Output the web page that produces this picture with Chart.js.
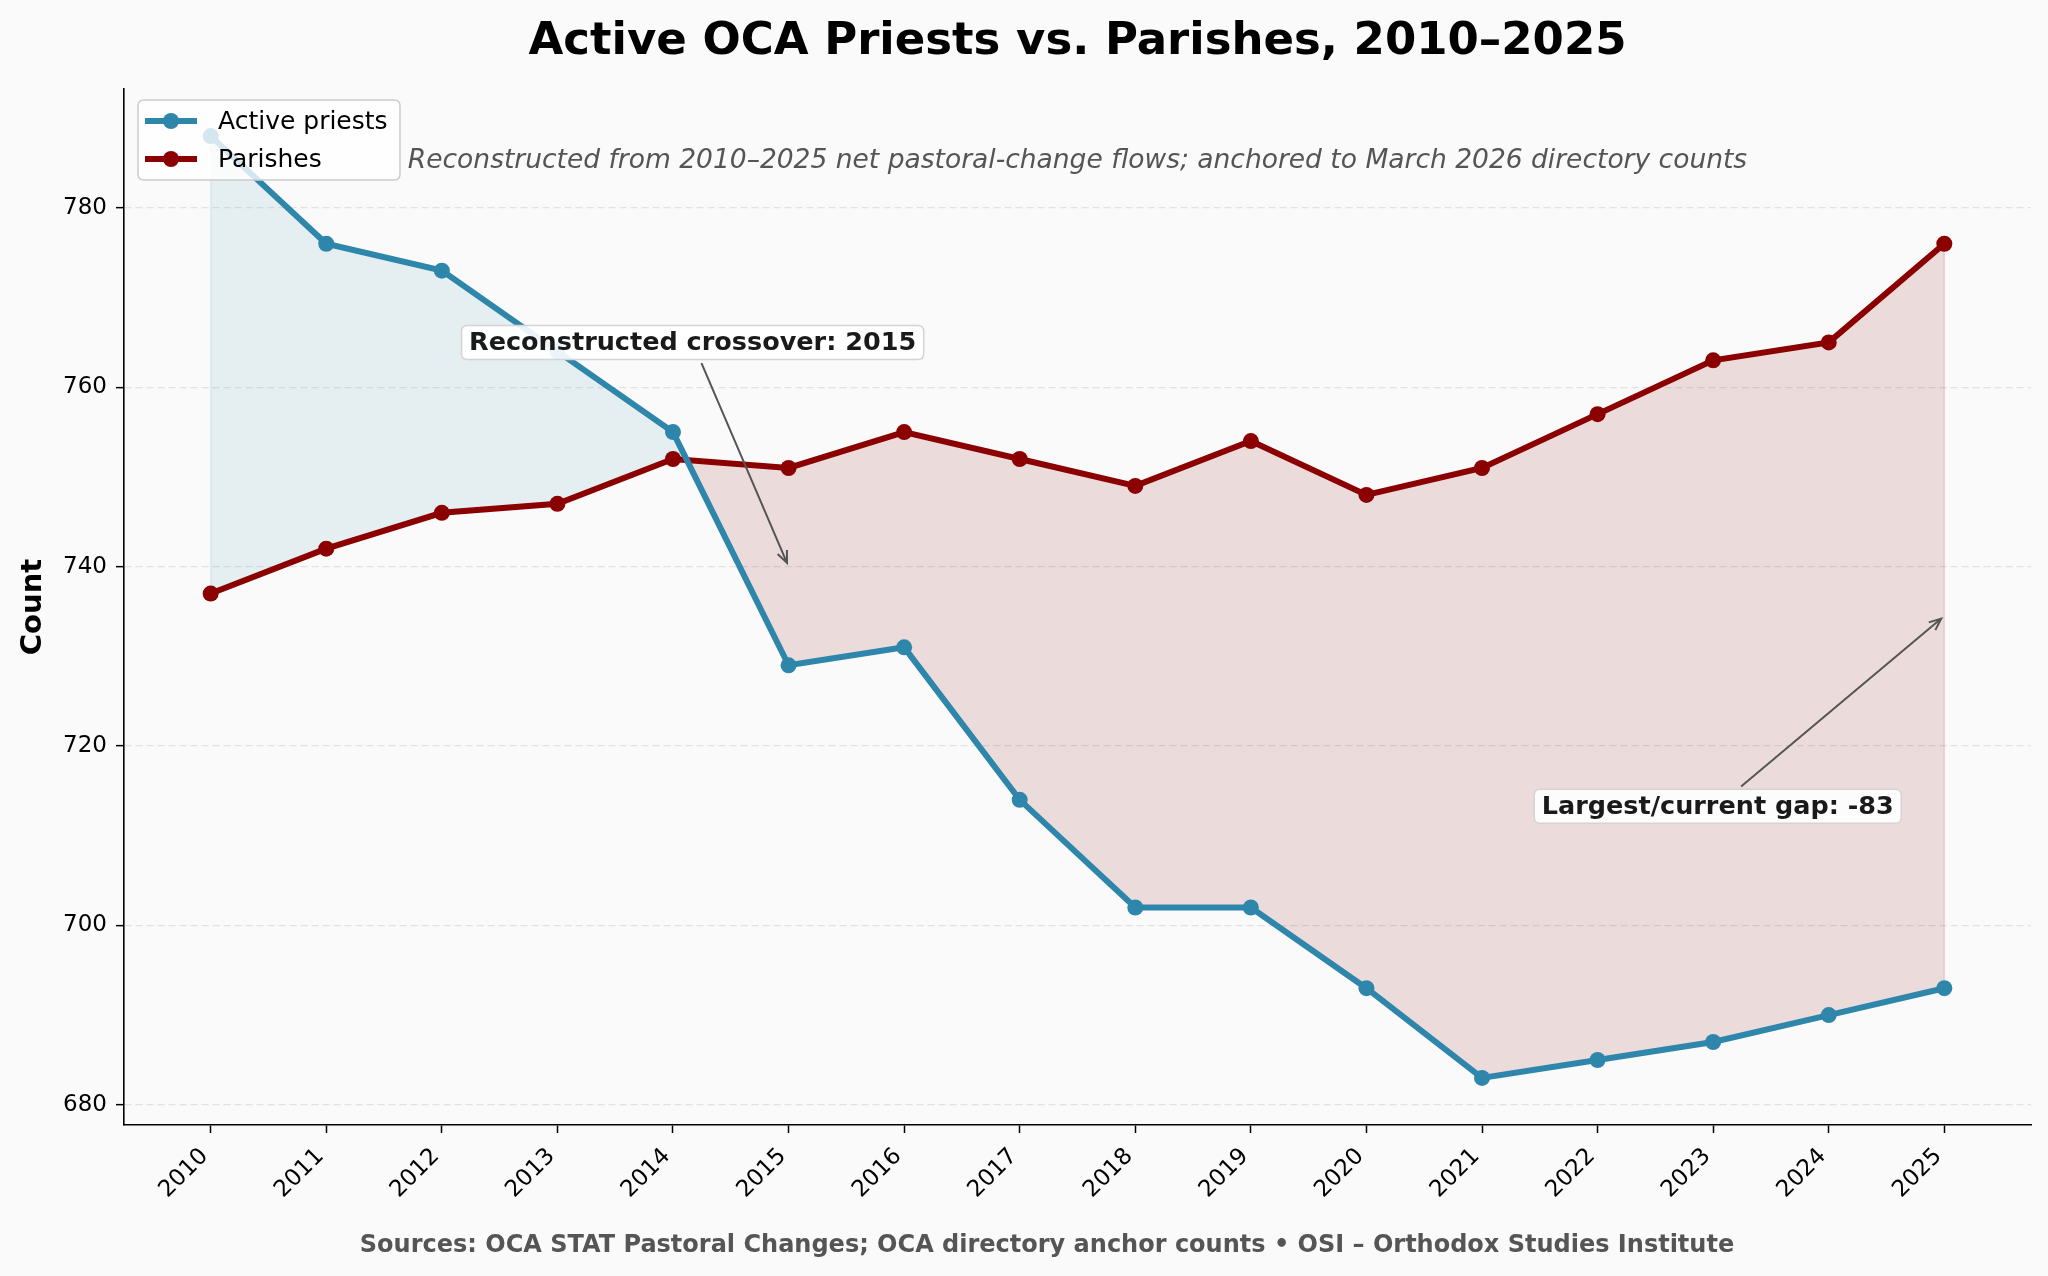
<!DOCTYPE html>
<html lang="en">
<head>
<meta charset="UTF-8">
<title>Active OCA Priests vs. Parishes, 2010–2025</title>
<script src="https://cdn.jsdelivr.net/npm/chart.js@4/dist/chart.umd.min.js"></script>
<style>
  html, body { margin: 0; padding: 0; background: #fafafa; }
  #wrap { width: 2048px; height: 1276px; }
</style>
</head>
<body>
<div id="wrap"><canvas id="chart" width="2048" height="1276"></canvas></div>
<script>
// data
const years = [2010, 2011, 2012, 2013, 2014, 2015, 2016, 2017, 2018, 2019, 2020, 2021, 2022, 2023, 2024, 2025];
const priests = [788, 776, 773, 764, 755, 729, 731, 714, 702, 702, 693, 683, 685, 687, 690, 693];
const parishes = [737, 742, 746, 747, 752, 751, 755, 752, 749, 754, 748, 751, 757, 763, 765, 776];
const yTicks = [680, 700, 720, 740, 760, 780];

const last = years.length - 1;
const gap = priests[last] - parishes[last];

// annotations: arrow target (x, y) and text centre (tx, ty), in data units
const notes = [
    { text: 'Reconstructed crossover: 2015', x: 2015, y: 740, tx: 2014.17, ty: 765 },
    { text: 'Largest/current gap: ' + gap, x: years[last], y: (priests[last] + parishes[last]) / 2, tx: 2023.04, ty: 713.3 }
];

const FONT = "'DejaVu Sans', sans-serif";
const BLUE = '#2E86AB';
const RED = '#8B0000';

function roundRect(ctx, x, y, w, h, r) {
    ctx.beginPath();
    ctx.moveTo(x + r, y);
    ctx.lineTo(x + w - r, y);
    ctx.quadraticCurveTo(x + w, y, x + w, y + r);
    ctx.lineTo(x + w, y + h - r);
    ctx.quadraticCurveTo(x + w, y + h, x + w - r, y + h);
    ctx.lineTo(x + r, y + h);
    ctx.quadraticCurveTo(x, y + h, x, y + h - r);
    ctx.lineTo(x, y + r);
    ctx.quadraticCurveTo(x, y, x + r, y);
    ctx.closePath();
}

function arrow(ctx, x1, y1, x2, y2) {
    const a = Math.atan2(y2 - y1, x2 - x1);
    const hl = 13, ha = 0.4;
    ctx.beginPath();
    ctx.moveTo(x1, y1);
    ctx.lineTo(x2, y2);
    ctx.moveTo(x2 - hl * Math.cos(a - ha), y2 - hl * Math.sin(a - ha));
    ctx.lineTo(x2, y2);
    ctx.lineTo(x2 - hl * Math.cos(a + ha), y2 - hl * Math.sin(a + ha));
    ctx.stroke();
}

const decor = {
    id: 'decor',
    beforeDraw(chart) {
        const ctx = chart.ctx;
        ctx.save();
        ctx.fillStyle = '#fafafa';
        ctx.fillRect(0, 0, chart.width, chart.height);
        ctx.restore();
    },
    beforeDatasetsDraw(chart) {
        // edges of the filled band at both ends
        const ctx = chart.ctx;
        const xs = chart.scales.x, ys = chart.scales.y;
        ctx.save();
        ctx.lineWidth = 1.5;
        ctx.strokeStyle = 'rgba(46,134,171,0.12)';
        ctx.beginPath();
        ctx.moveTo(xs.getPixelForValue(years[0]), ys.getPixelForValue(priests[0]));
        ctx.lineTo(xs.getPixelForValue(years[0]), ys.getPixelForValue(parishes[0]));
        ctx.stroke();
        ctx.strokeStyle = 'rgba(139,0,0,0.14)';
        ctx.beginPath();
        ctx.moveTo(xs.getPixelForValue(years[last]), ys.getPixelForValue(priests[last]));
        ctx.lineTo(xs.getPixelForValue(years[last]), ys.getPixelForValue(parishes[last]));
        ctx.stroke();
        ctx.restore();
    },
    afterDraw(chart) {
        const ctx = chart.ctx;
        const area = chart.chartArea;
        const xs = chart.scales.x, ys = chart.scales.y;
        const cx = (area.left + area.right) / 2;
        ctx.save();

        // title
        ctx.fillStyle = '#000';
        ctx.textAlign = 'center';
        ctx.textBaseline = 'middle';
        ctx.font = 'bold 45px ' + FONT;
        ctx.fillText('Active OCA Priests vs. Parishes, 2010–2025', cx, 42);

        // subtitle
        ctx.fillStyle = '#555555';
        ctx.font = 'italic 26.5px ' + FONT;
        ctx.fillText('Reconstructed from 2010–2025 net pastoral-change flows; anchored to March 2026 directory counts', cx, 161);

        // y axis title
        ctx.save();
        ctx.translate(33, (area.top + area.bottom) / 2);
        ctx.rotate(-Math.PI / 2);
        ctx.fillStyle = '#000';
        ctx.font = 'bold 29px ' + FONT;
        ctx.fillText('Count', 0, 0);
        ctx.restore();

        // footer
        ctx.fillStyle = '#555555';
        ctx.font = 'bold 24px ' + FONT;
        ctx.fillText('Sources: OCA STAT Pastoral Changes; OCA directory anchor counts \u2022 OSI \u2013 Orthodox Studies Institute', 1047, 1246);

        // annotations
        ctx.font = 'bold 25.5px ' + FONT;
        notes.forEach(n => {
            const px = xs.getPixelForValue(n.x), py = ys.getPixelForValue(n.y);
            const tx = xs.getPixelForValue(n.tx), ty = ys.getPixelForValue(n.ty);
            const w = ctx.measureText(n.text).width + 15;
            const h = 34;
            const bx = tx - w / 2, by = ty - h / 2;
            // arrow from box edge to target
            const dx = px - tx, dy = py - ty;
            const t = Math.min(Math.abs((w / 2) / dx), Math.abs((h / 2) / dy));
            const len = Math.hypot(dx, dy);
            const sx = tx + dx * t + dx / len * 4, sy = ty + dy * t + dy / len * 4;
            const ex = px - dx / len * 4, ey = py - dy / len * 4;
            ctx.strokeStyle = '#555555';
            ctx.lineWidth = 2;
            arrow(ctx, sx, sy, ex, ey);
            roundRect(ctx, bx, by, w, h, 6);
            ctx.fillStyle = 'rgba(255,255,255,0.9)';
            ctx.fill();
            ctx.strokeStyle = '#d4d4d4';
            ctx.lineWidth = 1.5;
            ctx.stroke();
            ctx.fillStyle = '#1a1a1a';
            ctx.fillText(n.text, tx, ty + 1);
        });

        // legend
        roundRect(ctx, 138, 100, 262, 80, 6);
        ctx.fillStyle = 'rgba(255,255,255,0.8)';
        ctx.fill();
        ctx.strokeStyle = '#cccccc';
        ctx.lineWidth = 1.5;
        ctx.stroke();
        ctx.textAlign = 'left';
        ctx.font = '25px ' + FONT;
        chart.data.datasets.forEach((ds, i) => {
            const y = 121 + i * 38;
            ctx.strokeStyle = ds.borderColor;
            ctx.lineWidth = ds.borderWidth;
            ctx.beginPath();
            ctx.moveTo(145, y);
            ctx.lineTo(197, y);
            ctx.stroke();
            ctx.fillStyle = ds.borderColor;
            ctx.beginPath();
            ctx.arc(171, y, ds.pointRadius, 0, Math.PI * 2);
            ctx.fill();
            ctx.fillStyle = '#000';
            ctx.fillText(ds.label, 218, y + 1);
        });
        ctx.restore();
    }
};

const ctx = document.getElementById('chart').getContext('2d');
const chart = new Chart(ctx, {
    type: 'line',
    data: {
        datasets: [
            {
                label: 'Active priests',
                data: years.map((yr, i) => ({ x: yr, y: priests[i] })),
                borderColor: BLUE,
                backgroundColor: BLUE,
                borderWidth: 6,
                pointRadius: 8,
                pointHoverRadius: 8,
                pointBorderWidth: 0,
                tension: 0,
                fill: { target: 1, above: 'rgba(46,134,171,0.1)', below: 'rgba(139,0,0,0.12)' }
            },
            {
                label: 'Parishes',
                data: years.map((yr, i) => ({ x: yr, y: parishes[i] })),
                borderColor: RED,
                backgroundColor: RED,
                borderWidth: 6,
                pointRadius: 8,
                pointHoverRadius: 8,
                pointBorderWidth: 0,
                tension: 0,
                fill: false
            }
        ]
    },
    options: {
        responsive: false,
        devicePixelRatio: 1,
        animation: false,
        events: [],
        layout: { padding: { top: 89, right: 17, left: 0, bottom: 0 } },
        plugins: {
            legend: { display: false },
            title: { display: false },
            tooltip: { enabled: false },
            filler: { drawTime: 'beforeDatasetsDraw' }
        },
        scales: {
            x: {
                type: 'linear',
                min: 2009.25,
                max: 2025.75,
                afterBuildTicks: s => { s.ticks = years.map(v => ({ value: v })); },
                afterFit: s => { s.height = 151; },
                ticks: {
                    autoSkip: false,
                    minRotation: 45,
                    maxRotation: 45,
                    padding: 10,
                    labelOffset: -6,
                    color: '#000',
                    font: { family: FONT, size: 23 },
                    callback: v => String(v)
                },
                grid: { drawOnChartArea: false, tickLength: 8, tickColor: '#000', tickWidth: 1.5 },
                border: { color: '#000', width: 1.6 }
            },
            y: {
                min: 677.75,
                max: 793.25,
                afterBuildTicks: s => { s.ticks = yTicks.map(v => ({ value: v })); },
                afterFit: s => { s.width = 124; },
                ticks: {
                    padding: 9,
                    color: '#000',
                    font: { family: FONT, size: 23 }
                },
                grid: { color: '#e2e2e2', lineWidth: 1.3, tickLength: 8, tickColor: '#000', tickWidth: 1.5 },
                border: { color: '#000', width: 1.6, dash: [7, 4] }
            }
        }
    },
    plugins: [decor]
});
</script>
</body>
</html>
